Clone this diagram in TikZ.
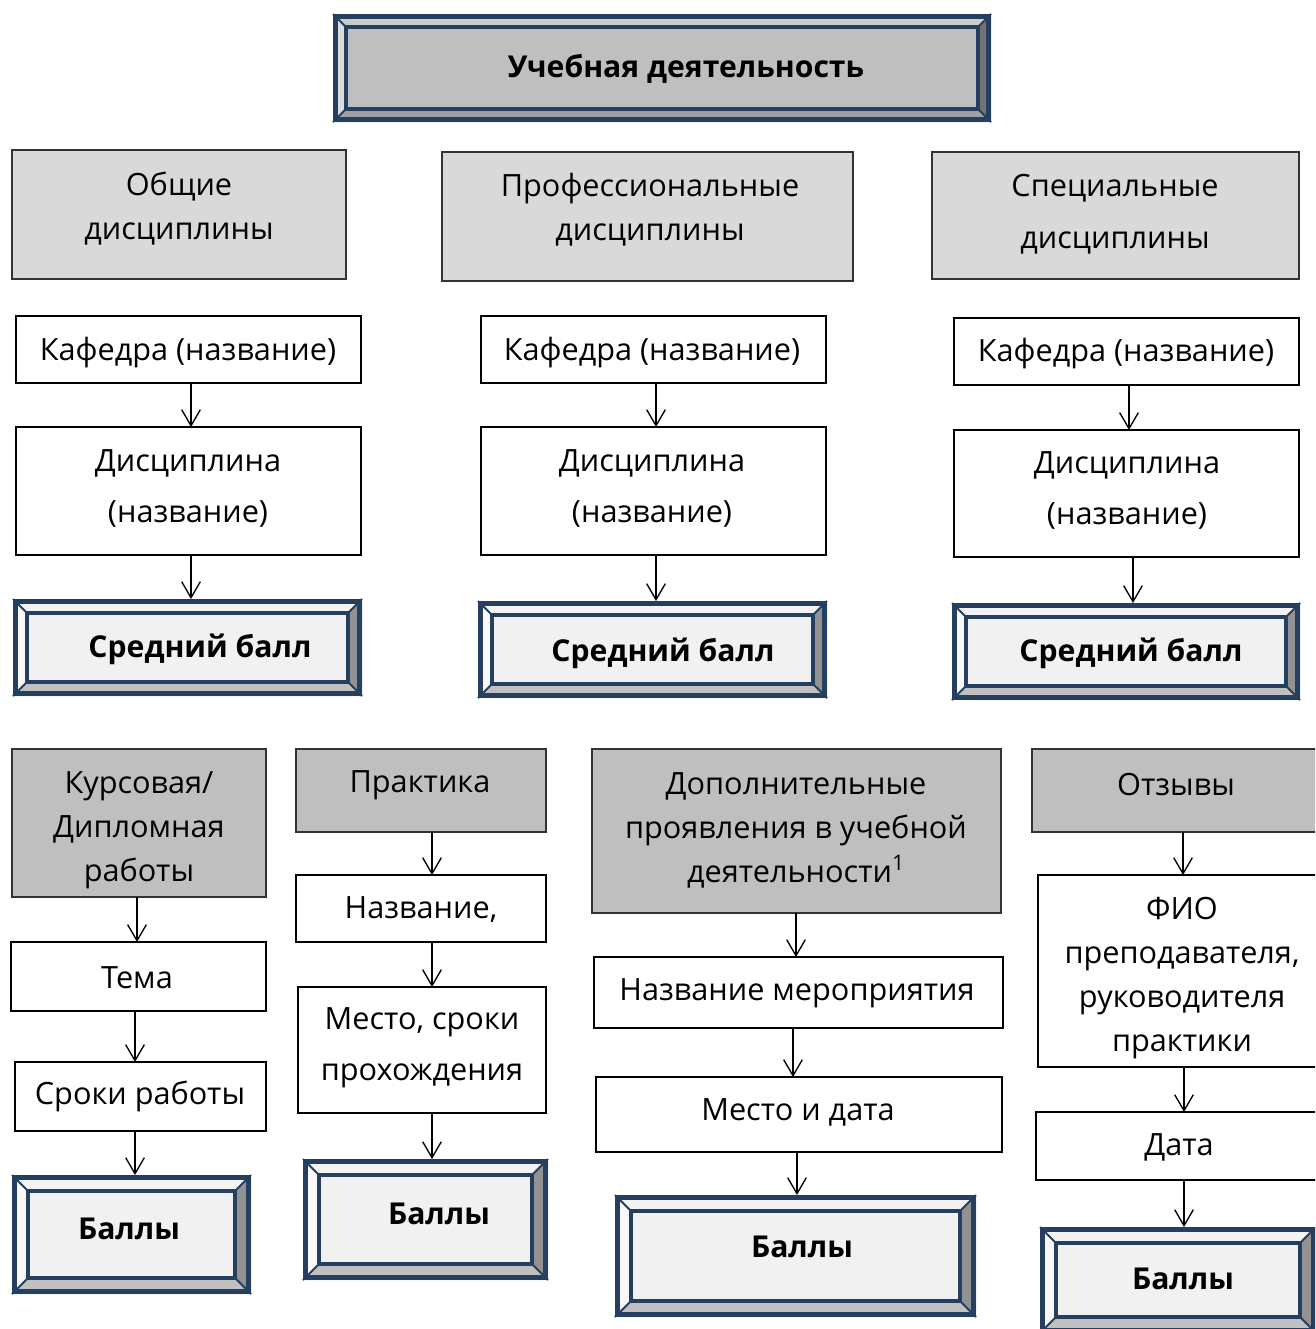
\documentclass[tikz,border=0pt]{standalone}
\usepackage{fontspec}
\setmainfont{Open Sans}
\usetikzlibrary{arrows.meta}
\definecolor{bvblue}{HTML}{243F60}
\definecolor{lgray}{HTML}{D9D9D9}
\definecolor{dgray}{HTML}{BFBFBF}
\definecolor{bvtopA}{HTML}{CCCCCC}
\definecolor{bvleftA}{HTML}{DADADA}
\definecolor{bvrightA}{HTML}{737373}
\definecolor{bvbotA}{HTML}{A0A0A0}
\definecolor{bvinA}{HTML}{BFBFBF}
\definecolor{bvtopB}{HTML}{F3F3F3}
\definecolor{bvleftB}{HTML}{F8F8F8}
\definecolor{bvrightB}{HTML}{929292}
\definecolor{bvbotB}{HTML}{C0C0C0}
\definecolor{bvinB}{HTML}{F1F1F1}
\newcommand\bx[6]{\node[#6, minimum width={(#4-#2)*0.75pt}, minimum height={(#5-#3)*0.75pt}] (#1) at ({(#2+#4)/2},{(#3+#5)/2}) {};}
% #1 name #2 x1 #3 y1 #4 x2 #5 y2 #6 palette #7 inset
\newcommand\bevel[7]{%
  \node[anchorbox, minimum width={(#4-#2)*0.75pt}, minimum height={(#5-#3)*0.75pt}] (#1) at ({(#2+#4)/2},{(#3+#5)/2}) {};
  \fill[bvtop#6] (#2,#3) -- (#4,#3) -- ({#4-#7},{#3+#7}) -- ({#2+#7},{#3+#7}) -- cycle;
  \fill[bvleft#6] (#2,#3) -- ({#2+#7},{#3+#7}) -- ({#2+#7},{#5-#7}) -- (#2,#5) -- cycle;
  \fill[bvright#6] (#4,#3) -- (#4,#5) -- ({#4-#7},{#5-#7}) -- ({#4-#7},{#3+#7}) -- cycle;
  \fill[bvbot#6] (#2,#5) -- (#4,#5) -- ({#4-#7},{#5-#7}) -- ({#2+#7},{#5-#7}) -- cycle;
  \draw[bvdiag] (#2,#3) -- ({#2+#7},{#3+#7}) (#4,#3) -- ({#4-#7},{#3+#7})
                (#4,#5) -- ({#4-#7},{#5-#7}) (#2,#5) -- ({#2+#7},{#5-#7});
  \draw[bvinner, fill=bvin#6] ({#2+#7},{#3+#7}) rectangle ({#4-#7},{#5-#7});
  \draw[bvouter] ({#2+2.3},{#3+2.3}) rectangle ({#4-2.3},{#5-2.3});
}
\newcommand\arr[3]{\draw[arrowline] (#1.south -| #3,0) -- (#2.north -| #3,0);}
\begin{document}
\begin{tikzpicture}[x=0.75pt,y=-0.75pt,
  box/.style={draw=black, line width=1pt, fill=white, inner sep=0pt, outer sep=0pt},
  gbox/.style={box, draw=black!80, fill=lgray},
  dbox/.style={box, draw=black!80, fill=dgray},
  anchorbox/.style={inner sep=0pt, outer sep=0pt},
  bvdiag/.style={draw=bvblue, line width=1.4pt},
  bvinner/.style={draw=bvblue, line width=3pt},
  bvouter/.style={draw=bvblue, line width=3.5pt},
  txt/.style={font=\fontsize{23}{33}\selectfont, align=center, inner sep=0pt, yshift=-2.2pt},
  txtw/.style={font=\fontsize{23}{38.3}\selectfont, align=center, inner sep=0pt, yshift=-2.2pt},
  btxt/.style={font=\fontsize{22.6}{33}\selectfont\bfseries, inner sep=0pt, yshift=-2pt},
  arrowline/.style={line width=1pt, -{Straight Barb[length=12pt,width=14pt]}}]
\useasboundingbox (0,0) rectangle (1315,1329);
\clip (0,0) rectangle (1315,1329);
\fill[white] (0,0) rectangle (1315,1329);

% top
\bevel{top}{333}{14}{991}{122}{A}{13}
\node[btxt] (topt) at (686,66) {Учебная деятельность};

% row of disciplines
\bx{g1}{12}{150}{346}{279}{gbox}
\node[txt] (g1t) at (179,206) {Общие\\дисциплины};
\bx{g2}{442}{152}{853}{281}{gbox}
\node[txt] (g2t) at (650,207) {Профессиональные\\дисциплины};
\bx{g3}{932}{152}{1299}{279}{gbox}
\node[txt, font=\fontsize{23}{39}\selectfont] (g3t) at (1115,211) {Специальные\\дисциплины};

\bx{k1}{16}{316}{361}{383}{box}
\node[txt] (k1t) at (188,350) {Кафедра (название)};
\bx{k2}{481}{316}{826}{383}{box}
\node[txt] (k2t) at (652,350) {Кафедра (название)};
\bx{k3}{954}{318}{1299}{385}{box}
\node[txt] (k3t) at (1126,351) {Кафедра (название)};

\bx{d1}{16}{427}{361}{555}{box}
\node[txtw] (d1t) at (188,486) {Дисциплина\\(название)};
\bx{d2}{481}{427}{826}{555}{box}
\node[txtw] (d2t) at (652,486) {Дисциплина\\(название)};
\bx{d3}{954}{430}{1299}{557}{box}
\node[txtw] (d3t) at (1127,488) {Дисциплина\\(название)};

\bevel{s1}{13}{599}{362}{696}{B}{14}
\node[btxt] (s1t) at (200,647) {Средний балл};
\bevel{s2}{478}{601}{827}{698}{B}{14}
\node[btxt] (s2t) at (663,651) {Средний балл};
\bevel{s3}{952}{603}{1300}{700}{B}{14}
\node[btxt] (s3t) at (1131,651) {Средний балл};

\arr{k1}{d1}{191}
\arr{d1}{s1}{191}
\arr{k2}{d2}{656}
\arr{d2}{s2}{656}
\arr{k3}{d3}{1129}
\arr{d3}{s3}{1133}

% lower section
\bx{c1}{12}{749}{266}{897}{dbox}
\node[txt] (c1t) at (139,827) {Курсовая/\\Дипломная\\работы};
\bx{t1}{11}{942}{266}{1011}{box}
\node[txt] (t1t) at (137,975) {Тема};
\bx{r1}{15}{1062}{266}{1131}{box}
\node[txt] (r1t) at (140,1093) {Сроки работы};
\bevel{b1}{12}{1175}{251}{1294}{B}{16}
\node[btxt] (b1t) at (129,1226) {Баллы};
\arr{c1}{t1}{137}
\arr{t1}{r1}{135}
\arr{r1}{b1}{135}

\bx{p2}{296}{749}{546}{832}{dbox}
\node[txt] (p2t) at (420,782) {Практика};
\bx{n2}{296}{875}{546}{942}{box}
\node[txt] (n2t) at (421,907) {Название,};
\bx{m2}{298}{987}{546}{1113}{box}
\node[txtw] (m2t) at (422,1045) {Место, сроки\\прохождения};
\bevel{b2}{303}{1159}{548}{1280}{B}{16}
\node[btxt] (b2t) at (439,1211) {Баллы};
\arr{p2}{n2}{432}
\arr{n2}{m2}{432}
\arr{m2}{b2}{432}

\bx{a3}{592}{749}{1001}{913}{dbox}
\node[txt] (a3t) at (796,827) {Дополнительные\\проявления в учебной\\деятельности\textsuperscript{1}};
\bx{e3}{594}{957}{1003}{1028}{box}
\node[txt] (e3t) at (797,990) {Название мероприятия};
\bx{f3}{596}{1077}{1002}{1152}{box}
\node[txt] (f3t) at (798,1109) {Место и дата};
\bevel{b3}{615}{1195}{976}{1317}{B}{16}
\node[btxt] (b3t) at (802,1244) {Баллы};
\arr{a3}{e3}{796}
\arr{e3}{f3}{793}
\arr{f3}{b3}{797}

\bx{o4}{1032}{749}{1322}{832}{dbox}
\node[txt] (o4t) at (1176,782) {Отзывы};
\bx{q4}{1038}{875}{1322}{1067}{box}
\node[txt] (q4t) at (1182,975) {ФИО\\преподавателя,\\руководителя\\практики};
\bx{h4}{1036}{1112}{1322}{1180}{box}
\node[txt] (h4t) at (1179,1144) {Дата};
\bevel{b4}{1040}{1227}{1316}{1333}{B}{16}
\node[btxt] (b4t) at (1183,1276) {Баллы};
\arr{o4}{q4}{1183}
\arr{q4}{h4}{1184}
\arr{h4}{b4}{1184}
\end{tikzpicture}
\end{document}
